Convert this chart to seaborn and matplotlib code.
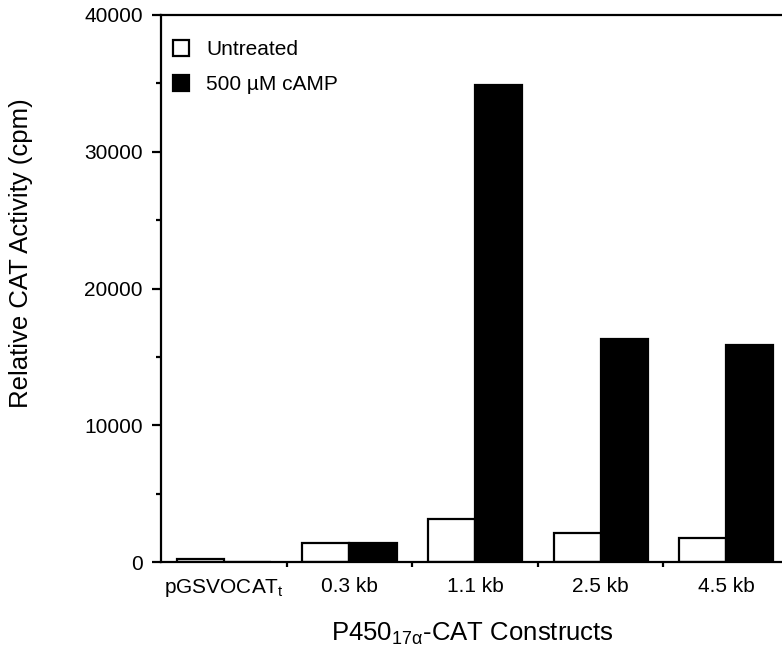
import matplotlib
matplotlib.use("Agg")
import matplotlib.pyplot as plt
import seaborn as sns
import pandas as pd
from matplotlib.ticker import MultipleLocator, FixedLocator
from matplotlib.patches import Patch

constructs = ["pGSVOCAT$_\\mathregular{t}$", "0.3 kb", "1.1 kb", "2.5 kb", "4.5 kb"]
untreated = [250, 1400, 3150, 2100, 1750]
camp = [0, 1400, 34900, 16300, 15850]
series_names = ["Untreated", "500 \u00b5M cAMP"]

df = pd.DataFrame({
    "construct": constructs * 2,
    "value": untreated + camp,
    "treatment": [series_names[0]] * len(constructs) + [series_names[1]] * len(constructs),
})

sns.set_style("ticks")
plt.rcParams["font.family"] = ["Liberation Sans", "DejaVu Sans"]
plt.rcParams["mathtext.fontset"] = "custom"
plt.rcParams["mathtext.rm"] = "Liberation Sans"
plt.rcParams["mathtext.it"] = "Liberation Sans:italic"
for k in ["text.color", "axes.labelcolor", "xtick.color", "ytick.color", "axes.edgecolor"]:
    plt.rcParams[k] = "black"

W, H = 782, 663
L, R, T, B = 161, 782, 15, 562
fig = plt.figure(figsize=(W / 100, H / 100), dpi=100)
ax = fig.add_axes([L / W, 1 - B / H, (R - L) / W, (B - T) / H])

sns.barplot(data=df, x="construct", y="value", hue="treatment",
            palette=["white", "black"], edgecolor="black", linewidth=1.6,
            width=0.75, gap=0, ax=ax, legend=False)

ax.set_xlim(-0.5, 4.5 - 7 / 125.5)
ax.set_ylim(0, 40000)
ax.yaxis.set_major_locator(MultipleLocator(10000))
ax.yaxis.set_minor_locator(MultipleLocator(5000))
ax.xaxis.set_minor_locator(FixedLocator([0.5, 1.5, 2.5, 3.5]))
ax.tick_params(axis="x", which="major", length=0, labelsize=15, pad=11)
ax.tick_params(axis="x", which="minor", length=3.6, width=1.6, direction="out", color="black")
ax.tick_params(axis="y", which="major", length=6.5, width=1.6, labelsize=15, pad=6.5, color="black")
ax.tick_params(axis="y", which="minor", length=3.6, width=1.6, color="black")

for s in ["left", "bottom", "top"]:
    ax.spines[s].set_linewidth(1.6)
    ax.spines[s].set_color("black")
ax.spines["right"].set_visible(False)

ax.set_ylabel("Relative CAT Activity (cpm)", fontsize=18.5)
ax.yaxis.label.set_va("center")
ax.yaxis.set_label_coords((21 - L) / (R - L), (B - 253) / (B - T))
ax.set_xlabel("P450$_{\\mathregular{17\u03b1}}$-CAT Constructs", fontsize=18.5)
ax.xaxis.label.set_va("center")
ax.xaxis.set_label_coords((472 - L) / (R - L), -(634 - B) / (B - T))

handles = [Patch(facecolor="white", edgecolor="black", linewidth=1.6),
           Patch(facecolor="black", edgecolor="black", linewidth=1.6)]
ax.legend(handles, series_names, loc="upper left", frameon=False, fontsize=15,
          handlelength=0.8, handleheight=0.8, handletextpad=0.8,
          labelspacing=0.75, bbox_to_anchor=(-0.008, 0.985), borderaxespad=0.4)

fig.savefig("out.png", dpi=100)
